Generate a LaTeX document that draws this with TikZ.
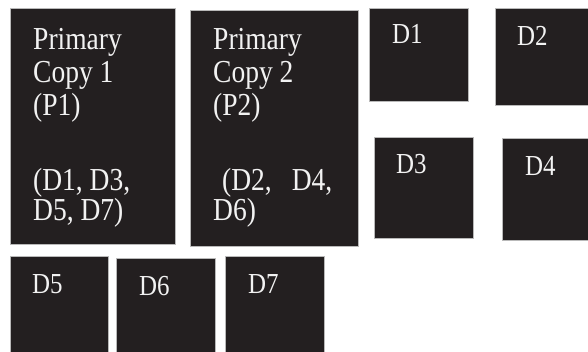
\documentclass[tikz,border=0pt]{standalone}
\usepackage{fontspec}
\setmainfont{Liberation Serif}[FakeStretch=0.86]
\usepackage{tikz}
\usetikzlibrary{positioning}
\definecolor{boxfill}{RGB}{35,31,32}
\definecolor{boxtext}{RGB}{242,242,242}

\begin{document}
\begin{tikzpicture}[x=1pt,y=-1pt,
    blk/.style={draw=gray!55,line width=0.7pt,fill=boxfill,inner sep=0pt},
    ptxt/.style={text=boxtext,inner sep=0pt,anchor=base west,font=\fontsize{32}{32}\selectfont},
    dtxt/.style={text=boxtext,inner sep=0pt,anchor=base west,font=\fontsize{29}{29}\selectfont}]
            \useasboundingbox (0,0) rectangle (588,351);
            \foreach \n/\xa/\ya/\xb/\yb in {p1/10/8/175/244,p2/190/10/358/246} {
                \node[blk,minimum width={(\xb-\xa)*1pt},minimum height={(\yb-\ya)*1pt}] (\n) at ({(\xa+\xb)/2},{(\ya+\yb)/2}) {};
        }
            \foreach \n/\xa/\ya/\xb/\yb/\lx/\ly/\lt in {d1/369/8/468/101/392/43/D1,d2/495/8/594/105/517/45/D2,
                d3/374/137/473/238/396/173/D3,d4/502/138/594/240/525/175/D4,d5/10/256/108/356/32/293/D5,
                d6/116/258/215/356/139/295/D6,d7/225/256/324/356/248/293/D7} {
                \node[blk,minimum width={(\xb-\xa)*1pt},minimum height={(\yb-\ya)*1pt}] (\n) at ({(\xa+\xb)/2},{(\ya+\yb)/2}) {};
                \node[dtxt] (\n-lbl) at (\lx,\ly) {\lt};
        }
            \foreach \n/\px/\py/\txt in {p1a/33/49/Primary,p1b/33/82/Copy 1,p1c/33/115/(P1),
                p1d/33/190/{(D1, D3,},p1e/33/220/{D5, D7)},
                p2a/213/49/Primary,p2b/213/82/Copy 2,p2c/213/115/(P2),
                p2d/222/190/{(D2,\hspace{20pt}D4,},p2e/213/220/{D6)}} {
                \node[ptxt] (\n) at (\px,\py) {\txt};
        }
        \end{tikzpicture}
\end{document}
